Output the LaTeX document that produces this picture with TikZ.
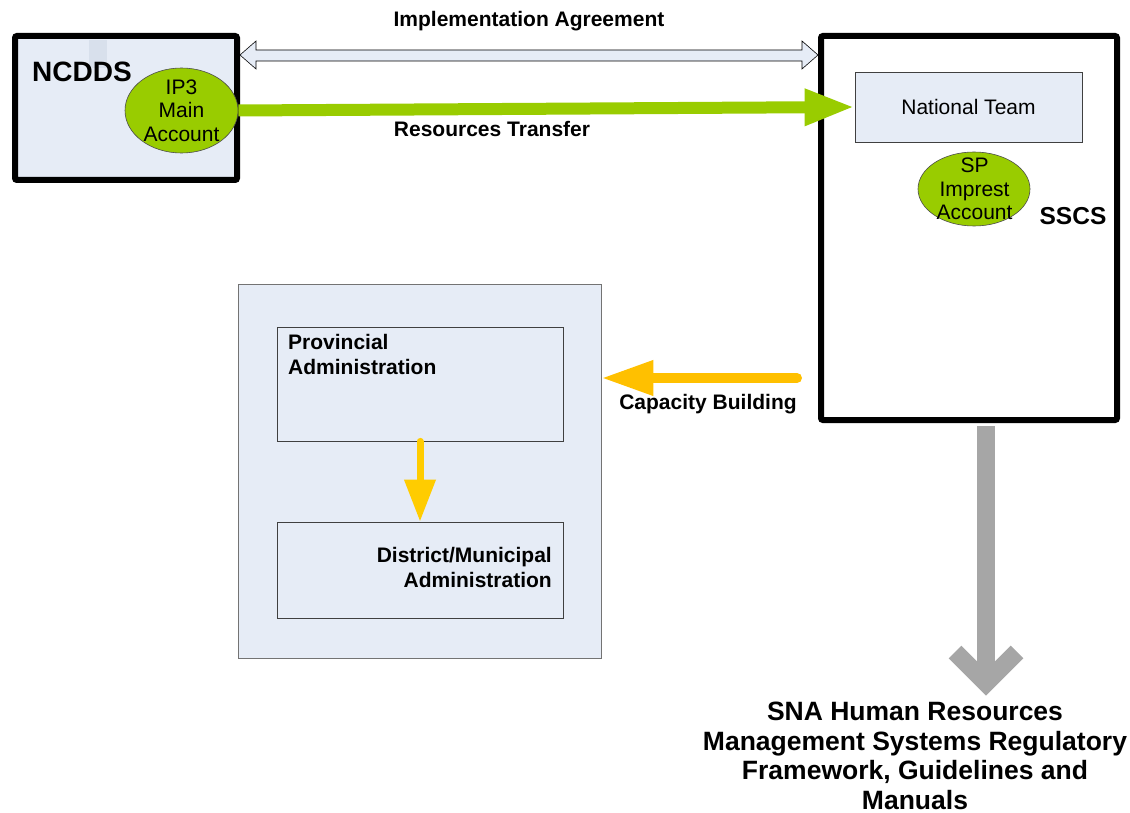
\documentclass[tikz,border=0pt]{standalone}
\usepackage{fontspec}
\setmainfont{Liberation Sans}
\usetikzlibrary{arrows.meta,shapes.geometric,calc}
\definecolor{lb}{HTML}{E6ECF6}
\definecolor{lbd}{HTML}{D8E0EC}
\definecolor{grn}{HTML}{99CC00}
\definecolor{yel}{HTML}{FFC000}
\definecolor{yelb}{HTML}{FFCC00}
\definecolor{gry}{HTML}{A6A6A6}
\begin{document}
\begin{tikzpicture}[x=1pt,y=-1pt,
  bigbox/.style={draw=black, line width=6pt, rounded corners=2pt},
  innerbox/.style={draw=black!75, fill=lb, line width=0.8pt},
  lab/.style={font=\fontsize{21}{25}\selectfont\bfseries, inner sep=0},
  reg/.style={font=\fontsize{21}{23.5}\selectfont, inner sep=0, align=center},
  acct/.style={ellipse, draw=black!70, fill=grn, line width=0.6pt, inner sep=0}
]
\useasboundingbox (0,0) rectangle (1130,813);

% left NCDDS box
\node[bigbox, fill=lb, minimum width=222pt, minimum height=144pt] (ncdds) at (126,108) {};
\fill[lbd] (89,40) rectangle (107,68);
\node[font=\fontsize{28}{30}\selectfont\bfseries, inner sep=0] (ncddst) at (82,72) {NCDDS};
\node[acct, minimum width=113pt, minimum height=85pt] (ip3) at (181.5,110.5) {};
\node[reg] (ip3t) at (ip3.center) {IP3\\Main\\Account};

% SSCS box
\node[bigbox, fill=white, minimum width=296pt, minimum height=384pt] (sscs) at (969,228) {};
\node[innerbox, minimum width=227pt, minimum height=70pt] (nat) at (968.5,107) {};
\node[reg] (natt) at (nat.center) {National Team};
\node[acct, minimum width=112pt, minimum height=74pt] (sp) at (974,189) {};
\node[reg] (spt) at (974.5,189) {SP\\Imprest\\Account};
\node[font=\fontsize{24.5}{26}\selectfont\bfseries, inner sep=0] (sscst) at (1073,216) {SSCS};

% implementation agreement double arrow
\coordinate (y55) at (0,55);
\coordinate (ial) at (ncdds.east |- y55);
\coordinate (iar) at (sscs.west |- y55);
\draw[fill=lb, draw=black, line width=0.6pt, line join=miter]
  (ial) -- ++(16,-14) -- ++(0,9) -- ($(iar)+(-16,-5)$) -- ++(0,-9) -- (iar)
  -- ++(-16,14) -- ++(0,-8) -- ($(ial)+(16,6)$) -- ++(0,8) -- cycle;
\node[lab] (iat) at (529,21) {Implementation Agreement};

% resources transfer
\draw[grn, line width=12pt, -{Triangle[length=50pt,width=34pt]}] (ip3.east) -- (nat.west);
\node[lab] (rtt) at (492,129) {Resources Transfer};

% provincial group
\node[draw=black!55, fill=lb, line width=0.8pt, minimum width=363pt, minimum height=374pt] (outer) at (419.5,471) {};
\node[innerbox, minimum width=286pt, minimum height=114pt] (prov) at (420,384) {};
\node[lab, align=left, anchor=north west] (provt) at (288,334) {Provincial\\Administration};
\node[innerbox, minimum width=286pt, minimum height=96pt] (dist) at (420,570) {};
\node[lab, align=right, anchor=north east] (distt) at (552,547.5) {District/Municipal\\Administration};
\draw[yelb, line width=7pt, line cap=round, -{Triangle[length=42pt,width=30pt]}] (prov.south) -- (dist.north);

% capacity building
\coordinate (cbs) at (797,378);
\draw[yel, line width=10pt, line cap=round, -{Triangle[length=52pt,width=33pt]}] (cbs) -- (outer.east |- cbs);
\node[lab] (cbt) at (708,404) {Capacity Building};

% grey arrow
\coordinate (gtip) at (986,683);
\draw[gry, line width=18pt] ($(sscs.south -| gtip)+(0,3)$) -- (gtip);
\draw[gry, line width=18pt, line join=miter] ($(gtip)+(-31,-31)$) -- (gtip) -- ($(gtip)+(31,-31)$);
\node[font=\fontsize{26.5}{29.5}\selectfont\bfseries, inner sep=0, align=center, anchor=north] (sna) at (915,702)
  {SNA Human Resources\\Management Systems Regulatory\\Framework, Guidelines and\\Manuals};
\end{tikzpicture}
\end{document}
